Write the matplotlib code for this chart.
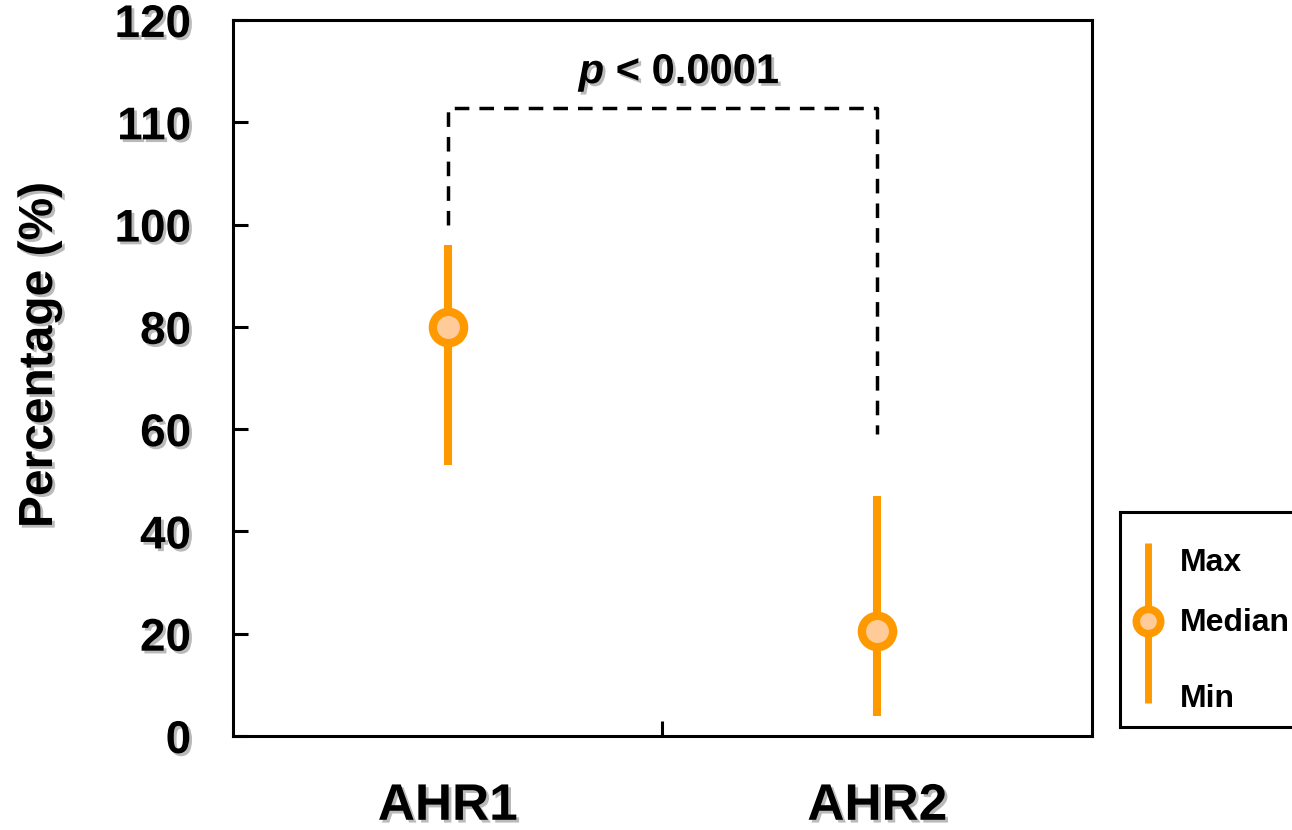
import numpy as np
import matplotlib
matplotlib.use('Agg')
import matplotlib.pyplot as plt
import matplotlib.patheffects as pe

plt.rcParams['font.family'] = 'Liberation Sans'
plt.rcParams['font.weight'] = 'bold'
plt.rcParams['axes.labelweight'] = 'bold'
plt.rcParams['mathtext.fontset'] = 'custom'
plt.rcParams['mathtext.it'] = 'Liberation Sans:italic:bold'
plt.rcParams['mathtext.rm'] = 'Liberation Sans:bold'

# data
groups = ['AHR1', 'AHR2']
x_pos = [0.5, 1.5]
medians = [80, 20.5]
maxs = [96, 47]
mins = [53, 4]
bracket_ends = [100, 59]
bracket_top = 111.4
p_text = '$p$ < 0.0001'
y_ticks = [0, 20, 40, 60, 80, 100, 110, 120]
legend_labels = ['Max', 'Median', 'Min']

orange = '#FF9900'
peach = '#FFCC99'
shadow = [pe.SimplePatchShadow(offset=(2, -2), shadow_rgbFace='0.55', alpha=0.6), pe.Normal()]


# axis is stretched above 100 (100-120 takes as much room as 0-40)
def fwd(v):
    v = np.asarray(v, dtype=float)
    return np.where(v <= 100, v, 100 + 2 * (v - 100))


def inv(u):
    u = np.asarray(u, dtype=float)
    return np.where(u <= 100, u, 100 + (u - 100) / 2)


fig = plt.figure(figsize=(12.92, 8.30), dpi=100)
ax = fig.add_axes([0.1803, 0.1133, 0.6649, 0.8626])
ax.set_yscale('function', functions=(fwd, inv))
ax.set_ylim(0, 120)
ax.set_xlim(0, 2)

for x, lo, hi, med in zip(x_pos, mins, maxs, medians):
    ax.plot([x, x], [lo, hi], color=orange, lw=5.8, solid_capstyle='butt', zorder=2)
    ax.plot(x, med, 'o', ms=22.5, mew=6, mec=orange, mfc=peach, zorder=3)

# significance bracket
ax.plot([x_pos[0], x_pos[0], x_pos[1], x_pos[1]],
        [bracket_ends[0], bracket_top, bracket_top, bracket_ends[1]],
        color='black', lw=2.5, linestyle=(0, (4.2, 2.9)))
ax.text(1.04, 114.8, p_text, ha='center', va='center', fontsize=30,
        path_effects=shadow)

for s in ax.spines.values():
    s.set_linewidth(2.2)

ax.set_yticks(y_ticks)
ax.set_yticklabels([str(t) for t in y_ticks])
ax.tick_params(axis='y', direction='in', length=11, width=2.2, pad=30, labelsize=33)
ax.set_xticks([1])
ax.set_xticklabels([''])
ax.set_xticks(x_pos, minor=True)
ax.set_xticklabels(groups, minor=True)
ax.tick_params(axis='x', which='major', direction='in', length=11, width=2.2)
ax.tick_params(axis='x', which='minor', length=0, pad=33, labelsize=37)
ax.set_yticks([], minor=True)
for lab in ax.get_yticklabels() + ax.get_xticklabels(minor=True):
    lab.set_path_effects(shadow)

ax.set_ylabel('Percentage (%)', fontsize=34.5, fontweight='bold', path_effects=shadow)
ax.yaxis.set_label_coords(-0.199, 0.532)

# legend box (partly cut by the right edge)
lax = fig.add_axes([0.8669, 0.1241, 0.15, 0.259])
lax.set_xlim(0, 1)
lax.set_ylim(0, 1)
lax.set_xticks([])
lax.set_yticks([])
for s in lax.spines.values():
    s.set_linewidth(2.2)
lax.plot([0.144, 0.144], [0.112, 0.856], color=orange, lw=5, solid_capstyle='butt')
lax.plot(0.144, 0.493, 'o', ms=17.5, mew=5.5, mec=orange, mfc=peach)
for lab, y in zip(legend_labels, [0.763, 0.484, 0.130]):
    lax.text(0.31, y, lab, ha='left', va='center', fontsize=23)

fig.savefig('out.png', dpi=100)
